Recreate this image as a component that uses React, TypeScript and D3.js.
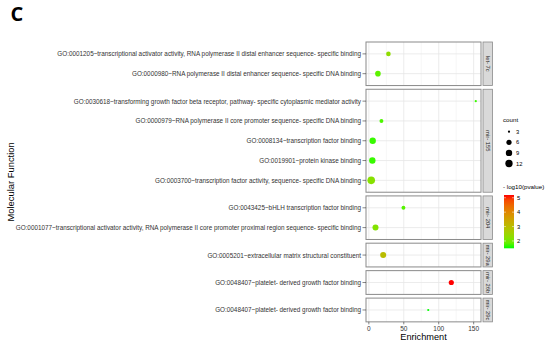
import * as d3 from "d3";

// facet strips (top to bottom) and how many terms each one holds
const panels = ["let- 7c", "mir- 155", "mir- 204", "mir- 29a", "mir- 26b", "mir- 29c"];

const terms = [
  "GO:0001205~transcriptional activator activity, RNA polymerase II distal enhancer sequence- specific binding",
  "GO:0000980~RNA polymerase II distal enhancer sequence- specific DNA binding",
  "GO:0030618~transforming growth factor beta receptor, pathway- specific cytoplasmic mediator activity",
  "GO:0000979~RNA polymerase II core promoter sequence- specific DNA binding",
  "GO:0008134~transcription factor binding",
  "GO:0019901~protein kinase binding",
  "GO:0003700~transcription factor activity, sequence- specific DNA binding",
  "GO:0043425~bHLH transcription factor binding",
  "GO:0001077~transcriptional activator activity, RNA polymerase II core promoter proximal region sequence- specific binding",
  "GO:0005201~extracellular matrix structural constituent",
  "GO:0048407~platelet- derived growth factor binding",
  "GO:0048407~platelet- derived growth factor binding",
];
const termPanel = [0, 0, 1, 1, 1, 1, 1, 2, 2, 3, 4, 5];
const enrichment = [28, 13, 153, 18, 5.5, 5, 3.4, 49.5, 9.5, 20.5, 118, 85];
const counts = [5, 7, 3, 4, 9, 9, 13, 4, 8, 8, 6, 3];
const logp = [2.3, 1.8, 1.6, 1.7, 1.6, 1.6, 2.2, 1.75, 2.15, 3.0, 5.19, 1.49];

const xTicks = [0, 50, 100, 150];
const xMinor = [25, 75, 125];
const sizeBreaks = [3, 6, 9, 12];
const colorBreaks = [2, 3, 4, 5];

const W = 550;
const H = 345;
const panelLeft = 366;
const panelRight = 481;
const panelTop = 42;
const unit = 19.8;
const gap = 3.7;
const font = "'Liberation Sans', Arial, sans-serif";

export default function App() {
  // x: data range with ggplot's 5% expansion
  const [eMin, eMax] = d3.extent(enrichment) as [number, number];
  const pad = (eMax - eMin) * 0.05;
  const x = d3.scaleLinear().domain([eMin - pad, eMax + pad]).range([panelLeft, panelRight]);

  // panel boxes, height proportional to number of terms (+0.6 each side)
  const nPer = panels.map((_, i) => termPanel.filter((p) => p === i).length);
  const boxes: { y0: number; y1: number }[] = [];
  let yCur = panelTop;
  nPer.forEach((n) => {
    const h = (n + 0.2) * unit;
    boxes.push({ y0: yCur, y1: yCur + h });
    yCur += h + gap;
  });
  const bottom = boxes[boxes.length - 1].y1;

  const rowY = terms.map((_, i) => {
    const p = termPanel[i];
    const k = termPanel.slice(0, i).filter((q) => q === p).length;
    return boxes[p].y0 + (0.6 + k) * unit;
  });

  const sizeT = d3.scaleLinear().domain([3, 13]).range([0, 1]);
  const rScale = d3.scaleSqrt().domain([0, 1]).range([1.1, 3.8]);
  const r = (c: number) => rScale(Math.max(0, sizeT(c)));

  const [pMin, pMax] = d3.extent(logp) as [number, number];
  const color = d3.scaleLinear<string>().domain([pMin, pMax]).range(["#00ff00", "#ff0000"]).interpolate(d3.interpolateLab);

  // colour bar
  const barTop = 195;
  const barBottom = 248.3;
  const barY = d3.scaleLinear().domain([pMin, pMax]).range([barBottom, barTop]);
  const stops = d3.range(0, 1.0001, 0.1);

  return (
    <svg width={W} height={H} style={{ position: "absolute", left: 0, top: 0, background: "#fff" }} fontFamily={font}>
      <defs>
        <linearGradient id="pgrad" x1="0" y1="1" x2="0" y2="0">
          {stops.map((s) => (
            <stop key={s} offset={`${s * 100}%`} stopColor={color(pMin + s * (pMax - pMin))} />
          ))}
        </linearGradient>
      </defs>

      <text x={10.5} y={20.5} fontSize={20} fontWeight="bold" fill="#000" fontFamily="'Open Sans', 'DejaVu Sans', sans-serif">C</text>

      {boxes.map((b, pi) => (
        <g key={pi}>
          <rect x={panelLeft} y={b.y0} width={panelRight - panelLeft} height={b.y1 - b.y0} fill="#fff" />
          {xMinor.map((t) => (
            <line key={"m" + t} x1={x(t)} x2={x(t)} y1={b.y0} y2={b.y1} stroke="#f2f2f2" strokeWidth={0.6} />
          ))}
          {xTicks.map((t) => (
            <line key={"M" + t} x1={x(t)} x2={x(t)} y1={b.y0} y2={b.y1} stroke="#e6e6e6" strokeWidth={0.8} />
          ))}
          {terms.map((_, i) =>
            termPanel[i] === pi ? (
              <line key={"h" + i} x1={panelLeft} x2={panelRight} y1={rowY[i]} y2={rowY[i]} stroke="#e6e6e6" strokeWidth={0.8} />
            ) : null
          )}
          <rect x={panelLeft} y={b.y0} width={panelRight - panelLeft} height={b.y1 - b.y0} fill="none" stroke="#8a8a8a" strokeWidth={1} />
          <rect x={483} y={b.y0} width={9.5} height={b.y1 - b.y0} fill="#d9d9d9" stroke="#8a8a8a" strokeWidth={0.8} />
          <text
            transform={`translate(${487.8},${(b.y0 + b.y1) / 2}) rotate(90)`}
            textAnchor="middle"
            dominantBaseline="central"
            fontSize={5.8}
            fill="#1a1a1a"
          >
            {panels[pi]}
          </text>
        </g>
      ))}

      {terms.map((t, i) => (
        <g key={"t" + i}>
          <line x1={362.5} x2={panelLeft} y1={rowY[i]} y2={rowY[i]} stroke="#333" strokeWidth={0.6} />
          <text x={361} y={rowY[i]} textAnchor="end" dominantBaseline="central" fontSize={6.35} fill="#333">
            {t}
          </text>
        </g>
      ))}

      {terms.map((_, i) => (
        <circle key={"c" + i} cx={x(enrichment[i])} cy={rowY[i]} r={r(counts[i])} fill={color(logp[i])} />
      ))}

      {xTicks.map((t) => (
        <g key={"xt" + t}>
          <line x1={x(t)} x2={x(t)} y1={bottom} y2={bottom + 2.5} stroke="#333" strokeWidth={0.6} />
          <text x={x(t)} y={bottom + 8.8} textAnchor="middle" fontSize={6.5} fill="#333">{t}</text>
        </g>
      ))}

      <text x={(panelLeft + panelRight) / 2} y={339.5} textAnchor="middle" fontSize={9.2} fill="#000">Enrichment</text>
      <text
        transform={`translate(${13.5},${(panelTop + bottom) / 2}) rotate(-90)`}
        textAnchor="middle"
        fontSize={9.4}
        fill="#000"
      >
        Molecular Function
      </text>

      {/* size legend */}
      <text x={503} y={122} fontSize={6.2} fill="#000">count</text>
      {sizeBreaks.map((s, i) => (
        <g key={"s" + s}>
          <circle cx={509} cy={131.7 + i * 10.6} r={r(s)} fill="#000" />
          <text x={516} y={131.7 + i * 10.6} dominantBaseline="central" fontSize={5.8} fill="#000">{s}</text>
        </g>
      ))}

      {/* colour legend */}
      <text x={503} y={189} fontSize={6.2} fill="#000">- log10(pvalue)</text>
      <rect x={504} y={barTop} width={10} height={barBottom - barTop} fill="url(#pgrad)" />
      {colorBreaks.map((c) => (
        <g key={"cb" + c}>
          <line x1={504} x2={506} y1={barY(c)} y2={barY(c)} stroke="#fff" strokeWidth={0.5} />
          <line x1={512} x2={514} y1={barY(c)} y2={barY(c)} stroke="#fff" strokeWidth={0.5} />
          <text x={517} y={barY(c)} dominantBaseline="central" fontSize={5.8} fill="#000">{c}</text>
        </g>
      ))}
    </svg>
  );
}
